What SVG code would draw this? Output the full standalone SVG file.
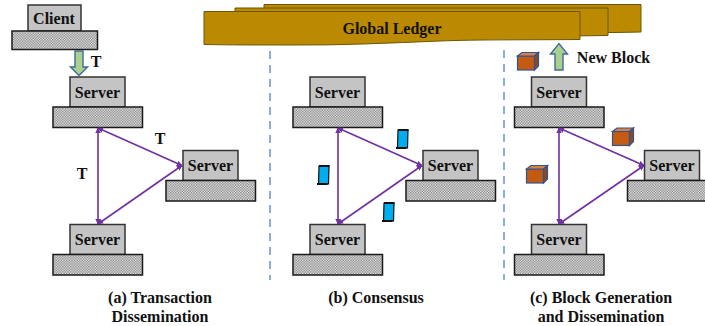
<svg xmlns="http://www.w3.org/2000/svg" xmlns:xlink="http://www.w3.org/1999/xlink" width="705" height="326" viewBox="0 0 705 326">
<style>
text{font-family:"Liberation Serif","Times New Roman",serif;font-weight:bold;font-size:16px;fill:#111;text-anchor:middle}
.box{fill:#c4c4c4;stroke:#333;stroke-width:1.5}
.base{fill:url(#chk);stroke:#1a1a1a;stroke-width:1.5}
.sheet{fill:#bb8a00;stroke:#6b5608;stroke-width:1}
.conn{stroke:#7030a0;stroke-width:1.6;fill:none;marker-start:url(#ah);marker-end:url(#ah)}
.dash{stroke:#5b8bd6;stroke-width:1.4;stroke-dasharray:8 6;fill:none}
.fat{fill:#a9d18e;stroke:#41699c;stroke-width:1.4}
.scroll{fill:#00aeef;stroke:#111;stroke-width:1.2}
.cf{fill:#c55a11;stroke:#2f5597;stroke-width:1.2}
.ct{fill:#d9803f;stroke:#2f5597;stroke-width:1.2}
.cs{fill:#8a4a20;stroke:#2f5597;stroke-width:1.2}
</style>
<defs>
<pattern id="chk" width="2.6" height="2.6" patternUnits="userSpaceOnUse">
<rect width="2.6" height="2.6" fill="#f4f4f4"/>
<rect width="1.3" height="1.3" fill="#777"/>
<rect x="1.3" y="1.3" width="1.3" height="1.3" fill="#777"/>
</pattern>
<marker id="ah" viewBox="0 0 6 6" refX="5.500" refY="3" markerWidth="3.500" markerHeight="3.500" orient="auto-start-reverse"><path d="M0 0L6 3L0 6z" fill="#7030a0"/></marker>
<g id="cube"><rect class="cf" x="0.500" y="4" width="17" height="14"/><path class="ct" d="M0.500 4L5 0.500H21.500L17.500 4z"/><path class="cs" d="M17.500 4L21.500 0.500V14L17.500 18z"/></g>
<g id="scr"><path class="scroll" d="M2 1H12L11.500 19H1.500z"/><path d="M2 1H12.500M0 19H10.500" stroke="#111" stroke-width="2" fill="none"/></g>
<g id="srv"><rect class="box" x="0" y="0" width="55" height="30"/><rect class="base" x="-17" y="30" width="89.500" height="20.500"/><text x="27.500" y="20.500">Server</text></g>
</defs>
<g id="ledger">
<path class="sheet" d="M264 4.500H641V32L615 32.500H264z"/>
<path class="sheet" d="M235 8H608V35.500L570 36H235z"/>
<path class="sheet" d="M204 11.500H580V39.500C520 40 480 39.500 440 41C390 43 340 45.500 290 45C260 45 230 45 204 44.500z"/>
<text x="392" y="34">Global Ledger</text>
</g>
<g id="client"><rect class="box" x="28" y="5" width="53" height="26"/><rect class="base" x="12" y="31" width="85.500" height="18.500"/><text x="54" y="24">Client</text></g>
<g id="server-a1"><use xlink:href="#srv" href="#srv" x="70" y="77"/></g>
<g id="server-a2"><use xlink:href="#srv" href="#srv" x="183" y="150.500"/></g>
<g id="server-a3"><use xlink:href="#srv" href="#srv" x="70" y="224.500"/></g>
<g id="server-b1"><use xlink:href="#srv" href="#srv" x="310" y="77"/></g>
<g id="server-b2"><use xlink:href="#srv" href="#srv" x="423" y="150.500"/></g>
<g id="server-b3"><use xlink:href="#srv" href="#srv" x="310" y="224.500"/></g>
<g id="server-c1"><use xlink:href="#srv" href="#srv" x="531.500" y="77"/></g>
<g id="server-c2"><use xlink:href="#srv" href="#srv" x="644.500" y="150.500"/></g>
<g id="server-c3"><use xlink:href="#srv" href="#srv" x="531.500" y="224.500"/></g>
<g id="connectors">
<path class="conn" d="M98 128V224"/><path class="conn" d="M98 128L182 165.500"/><path class="conn" d="M98 224L182 165.500"/>
<path class="conn" d="M338 128V224"/><path class="conn" d="M338 128L422 165.500"/><path class="conn" d="M338 224L422 165.500"/>
<path class="conn" d="M559 128V224"/><path class="conn" d="M559 128L644 165.500"/><path class="conn" d="M559 224L644 165.500"/>
<path class="dash" d="M270 51V280"/><path class="dash" d="M504 50V280"/>
<path class="fat" d="M75 51H83V67H87.500L79 75.500L70.500 67H75z"/>
<path class="fat" d="M555 70V54H550.500L559 43.500L567.500 54H563V70z"/>
</g>
<g id="icons">
<use xlink:href="#scr" href="#scr" x="396" y="129"/>
<use xlink:href="#scr" href="#scr" x="317" y="165"/>
<use xlink:href="#scr" href="#scr" x="382" y="202"/>
<use xlink:href="#cube" href="#cube" x="517" y="52"/>
<use xlink:href="#cube" href="#cube" x="612" y="127.500"/>
<use xlink:href="#cube" href="#cube" x="526" y="165"/>
</g>
<g id="labels">
<text x="96" y="67">T</text><text x="160" y="144">T</text><text x="82" y="179">T</text>
<text x="613.500" y="62.500">New Block</text>
<text x="160" y="303">(a) Transaction</text><text x="160" y="322">Dissemination</text>
<text x="376" y="303">(b) Consensus</text>
<text x="601" y="303">(c) Block Generation</text><text x="601" y="322">and Dissemination</text>
</g>
</svg>
